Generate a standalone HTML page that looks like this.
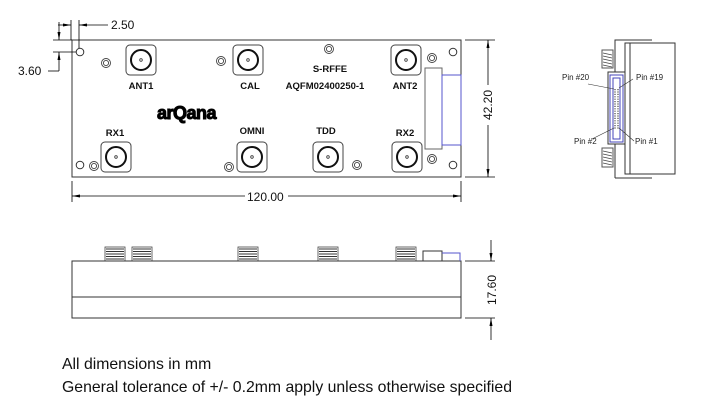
<!DOCTYPE html>
<html><head><meta charset="utf-8"><style>
html,body{margin:0;padding:0;background:#fff;}
svg{display:block;font-family:"Liberation Sans",Arial,sans-serif;}
</style></head><body>
<svg width="712" height="406" viewBox="0 0 712 406" xmlns="http://www.w3.org/2000/svg">
<defs>
<marker id="a" markerWidth="8" markerHeight="6" refX="8" refY="3" orient="auto" markerUnits="userSpaceOnUse"><path d="M0,1.5 L8,3 L0,4.5 Z" fill="#000"/></marker>
<g id="con"><rect x="0" y="0" width="30" height="30" rx="4" fill="#fff" stroke="#444" stroke-width="1"/><circle cx="15" cy="15" r="10" fill="none" stroke="#111" stroke-width="2"/><circle cx="15" cy="15" r="1.3" fill="none" stroke="#333" stroke-width="0.8"/></g>
<g id="dh"><circle r="4.5" fill="none" stroke="#444" stroke-width="0.9"/><circle r="2.6" fill="none" stroke="#444" stroke-width="0.9"/></g>
<g id="thr"><rect width="20" height="14" fill="#fff" stroke="#444" stroke-width="0.8"/><path d="M1,2h18M1,4.5h18M1,7h18M1,9.5h18M1,12h18" stroke="#333" stroke-width="1"/></g>
</defs>
<g fill="none" stroke="#333" stroke-width="1">
<rect x="72" y="40" width="389" height="137"/>
<rect x="425" y="68" width="17" height="81" fill="#fff" stroke="#666"/>
<rect x="442" y="75" width="19" height="70" stroke="#55c"/>
<circle cx="80" cy="52" r="3.8"/><circle cx="453" cy="52" r="3.8"/><circle cx="80" cy="165" r="3.8"/><circle cx="453" cy="165" r="3.8"/>
</g>
<use href="#dh" x="106" y="63"/><use href="#dh" x="221" y="61"/><use href="#dh" x="329" y="49"/><use href="#dh" x="432" y="58"/>
<use href="#dh" x="94" y="166"/><use href="#dh" x="229" y="167"/><use href="#dh" x="357" y="165"/><use href="#dh" x="432" y="159"/>
<use href="#con" x="126" y="45"/><use href="#con" x="233" y="45"/><use href="#con" x="391" y="45"/>
<use href="#con" x="101" y="142"/><use href="#con" x="237" y="142"/><use href="#con" x="313" y="142"/><use href="#con" x="392" y="142"/>
<g font-size="9.5" font-weight="bold" fill="#111" text-anchor="middle">
<text x="141" y="89">ANT1</text><text x="250" y="89">CAL</text><text x="330" y="72">S-RFFE</text><text x="325" y="89">AQFM02400250-1</text><text x="405" y="89">ANT2</text>
<text x="115" y="136">RX1</text><text x="252" y="134">OMNI</text><text x="326" y="134">TDD</text><text x="405" y="136">RX2</text>
</g>
<text x="157" y="119" font-size="18" font-weight="bold" fill="#000" stroke="#000" stroke-width="1" letter-spacing="-0.5">arQana</text>
<g stroke="#000" stroke-width="0.8" fill="none">
<path d="M71,20V40M79,20V48"/>
<path d="M58,25H71" marker-end="url(#a)"/><path d="M108,25H79" marker-end="url(#a)"/>
<path d="M53,40H72M53,52H76"/>
<path d="M59,22V40" marker-end="url(#a)"/><path d="M59,71V52" marker-end="url(#a)"/><path d="M48,71H59"/>
<path d="M72,181V202M461,181V202"/>
<path d="M245,196H72" marker-end="url(#a)"/><path d="M288,196H461" marker-end="url(#a)"/>
<path d="M465,40H495M465,177H495"/>
<path d="M488,85V40" marker-end="url(#a)"/><path d="M488,125V177" marker-end="url(#a)"/>
</g>
<g font-size="12" fill="#111">
<text x="111" y="29">2.50</text><text x="18" y="75">3.60</text><text x="247" y="201">120.00</text>
<text transform="translate(492,105) rotate(-90)" text-anchor="middle">42.20</text>
<text transform="translate(496,290) rotate(-90)" text-anchor="middle">17.60</text>
</g>
<use href="#thr" x="105" y="247"/><use href="#thr" x="132" y="247"/><use href="#thr" x="238" y="247"/><use href="#thr" x="318" y="247"/><use href="#thr" x="396" y="247"/>
<g fill="none" stroke="#333" stroke-width="1">
<rect x="72" y="261" width="389" height="57"/>
<path d="M72,297H461"/>
<rect x="423" y="251" width="19" height="10"/>
<path d="M442,253H460V261" stroke="#55c"/>
</g>
<g stroke="#000" stroke-width="0.8" fill="none">
<path d="M465,261H495M465,318H495"/>
<path d="M491,240V261" marker-end="url(#a)"/><path d="M491,340V318" marker-end="url(#a)"/>
</g>
<g fill="none" stroke="#333" stroke-width="1">
<path d="M615,178V40H652"/>
<path d="M615,178H652"/>
<rect x="625" y="43" width="50" height="131" fill="#fff"/>
<path d="M630,43V174"/>
<rect x="608" y="72" width="17" height="72" fill="#fff"/>
<rect x="610" y="75" width="13" height="67" stroke="#44b"/>
<rect x="613" y="78" width="7" height="61" stroke="#44b"/>
<rect x="602" y="50" width="11" height="18" stroke="#555"/>
<rect x="602" y="148" width="11" height="19" stroke="#555"/>
<path d="M603,53l9,2M603,56l9,2M603,59l9,2M603,62l9,2M603,65l9,2M603,151l9,2M603,154l9,2M603,157l9,2M603,160l9,2M603,163l9,2" stroke="#444" stroke-width="0.7"/>
<path d="M615,89V129M618,89V129" stroke="#555" stroke-width="1.3" stroke-dasharray="1.2,1.2"/>
<path d="M588,84L614,89M633,79L619,88M592,139L614,128M634,141L619,128" stroke="#333" stroke-width="0.6"/>
</g>
<g font-size="8" fill="#222">
<text x="562" y="80">Pin #20</text><text x="636" y="80">Pin #19</text>
<text x="574" y="144">Pin #2</text><text x="635" y="144">Pin #1</text>
</g>
<g font-size="15.8" fill="#111">
<text x="62" y="369">All dimensions in mm</text>
<text x="62" y="392">General tolerance of +/- 0.2mm apply unless otherwise specified</text>
</g>
</svg>
</body></html>
